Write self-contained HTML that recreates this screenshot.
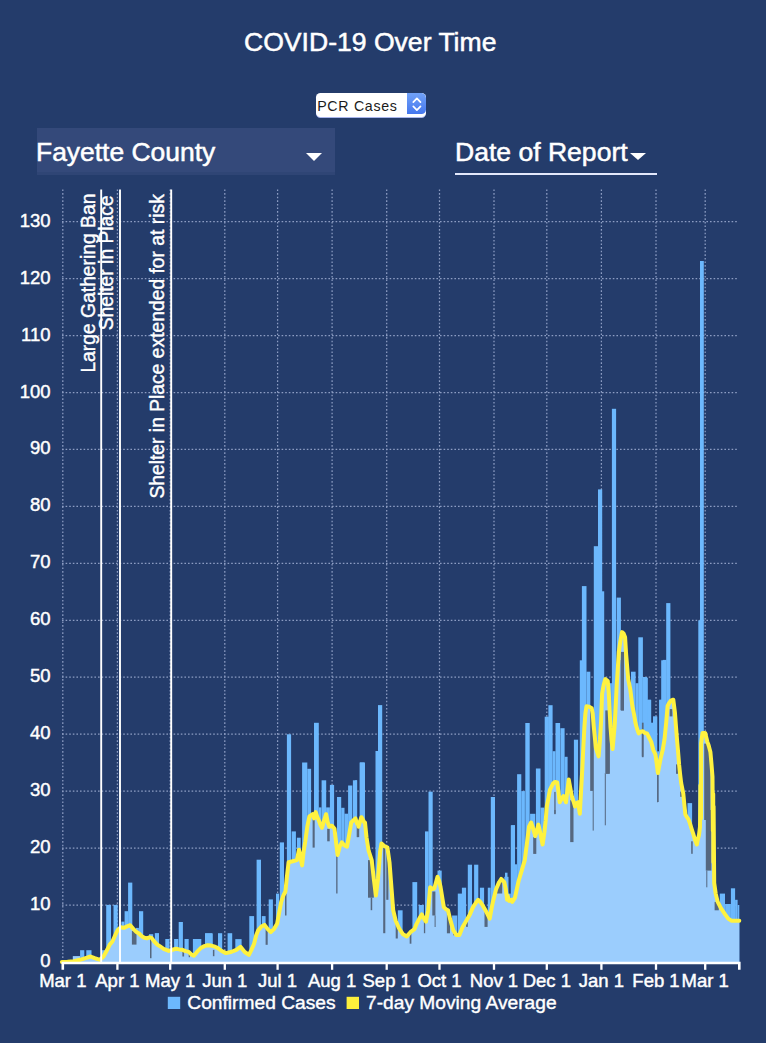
<!DOCTYPE html>
<html><head><meta charset="utf-8"><title>COVID-19 Over Time</title>
<style>
html,body{margin:0;padding:0}
body{width:766px;height:1043px;background:#243c6b;position:relative;overflow:hidden;font-family:"Liberation Sans",sans-serif;color:#fff}
.t{position:absolute;white-space:nowrap;line-height:1;transform-origin:0 0;-webkit-text-stroke:.5px #fff}
#title{left:243.6px;top:29.9px;font-size:25.6px;transform:scaleX(1.038)}
#county{position:absolute;left:37px;top:128px;width:298px;height:47px;background:#34497a;border-bottom:0}
#county i{position:absolute;left:0;right:0;bottom:0;height:3.5px;background:#2f4575}
#cty{left:36.4px;top:140.4px;font-size:25.6px;transform:scaleX(1.033)}
#dor{left:454.6px;top:140.4px;font-size:25.6px;transform:scaleX(1.037)}
#ul{position:absolute;left:455px;top:173px;width:201.5px;height:1.8px;background:#e3e8fb}
.tri{position:absolute;width:0;height:0;border-left:8.8px solid transparent;border-right:8.8px solid transparent;border-top:8.4px solid #fff}
#sel{position:absolute;left:316px;top:93px;width:109.5px;height:24px;background:#fff;border-radius:4.5px;box-shadow:0 1px 0 #a9b6ee;overflow:hidden}
#sel b{position:absolute;right:0;top:0;width:19px;height:21px;background:linear-gradient(#71a2f8,#4577ee);border-radius:0 4.5px 4.5px 0}
#sel span{position:absolute;left:1.2px;top:5.6px;font-size:14.2px;letter-spacing:.7px;color:#1b1b1b;line-height:1;font-weight:normal}
</style></head><body>
<div class="t" id="title">COVID-19 Over Time</div>
<div id="sel"><span>PCR Cases</span><b><svg width="19" height="21" viewBox="0 0 19 21" style="position:absolute;left:0;top:0"><path d="M6.3 9.2L9.9 5.4L13.5 9.2M6.3 13.4L9.9 17.2L13.5 13.4" fill="none" stroke="#fff" stroke-width="1.7" stroke-linecap="round" stroke-linejoin="round"/></svg></b></div>
<div id="county"><i></i></div>
<div class="t" id="cty">Fayette County</div>
<div class="tri" style="left:306.3px;top:153px"></div>
<div class="t" id="dor">Date of Report</div>
<div class="tri" style="left:629.5px;top:152.6px;border-left-width:8.1px;border-right-width:8.1px;border-top-width:7.8px"></div>
<div id="ul"></div>
<svg width="766" height="1043" viewBox="0 0 766 1043" style="position:absolute;left:0;top:0;font-family:'Liberation Sans',sans-serif"><g stroke="#8d9dc3" stroke-width="1.25" stroke-dasharray="1.6 2" fill="none"><line x1="62" y1="905" x2="738" y2="905"/><line x1="62" y1="848.1" x2="738" y2="848.1"/><line x1="62" y1="791.1" x2="738" y2="791.1"/><line x1="62" y1="734.2" x2="738" y2="734.2"/><line x1="62" y1="677.2" x2="738" y2="677.2"/><line x1="62" y1="620.3" x2="738" y2="620.3"/><line x1="62" y1="563.3" x2="738" y2="563.3"/><line x1="62" y1="506.4" x2="738" y2="506.4"/><line x1="62" y1="449.4" x2="738" y2="449.4"/><line x1="62" y1="392.5" x2="738" y2="392.5"/><line x1="62" y1="335.5" x2="738" y2="335.5"/><line x1="62" y1="278.6" x2="738" y2="278.6"/><line x1="62" y1="221.6" x2="738" y2="221.6"/><line x1="62.8" y1="189.5" x2="62.8" y2="962"/><line x1="117.4" y1="189.5" x2="117.4" y2="962"/><line x1="170.2" y1="189.5" x2="170.2" y2="962"/><line x1="224.8" y1="189.5" x2="224.8" y2="962"/><line x1="277.6" y1="189.5" x2="277.6" y2="962"/><line x1="332.1" y1="189.5" x2="332.1" y2="962"/><line x1="386.7" y1="189.5" x2="386.7" y2="962"/><line x1="439.5" y1="189.5" x2="439.5" y2="962"/><line x1="494" y1="189.5" x2="494" y2="962"/><line x1="546.8" y1="189.5" x2="546.8" y2="962"/><line x1="601.4" y1="189.5" x2="601.4" y2="962"/><line x1="656" y1="189.5" x2="656" y2="962"/><line x1="705.2" y1="189.5" x2="705.2" y2="962"/></g>
<g fill="#6cb8fd"><rect x="80.1" y="950.2" width="4.2" height="11.8"/><rect x="86.3" y="950.2" width="5.2" height="11.8"/><rect x="102" y="950.2" width="3.1" height="11.8"/><rect x="106.2" y="904.9" width="4.8" height="57.1"/><rect x="113.5" y="904.9" width="4.2" height="57.1"/><rect x="121.4" y="921.6" width="3.1" height="40.4"/><rect x="124.6" y="911.2" width="3.6" height="50.8"/><rect x="128.1" y="882.6" width="4.2" height="79.4"/><rect x="136" y="927.9" width="2.9" height="34.1"/><rect x="139" y="911.2" width="4.2" height="50.8"/><rect x="149" y="934.2" width="4.2" height="27.8"/><rect x="154.8" y="933.1" width="4.2" height="28.9"/><rect x="165.3" y="939" width="4.2" height="23"/><rect x="174.1" y="939" width="4.2" height="23"/><rect x="178.7" y="922" width="4.2" height="40"/><rect x="184.5" y="939" width="4.2" height="23"/><rect x="192.9" y="939" width="8.4" height="23"/><rect x="205.4" y="933.5" width="7.3" height="28.5"/><rect x="205" y="933.2" width="7.3" height="28.8"/><rect x="218" y="933.2" width="4.2" height="28.8"/><rect x="227.6" y="933.2" width="4.6" height="28.8"/><rect x="235.3" y="939.1" width="6.3" height="22.9"/><rect x="249.3" y="916.1" width="4.8" height="45.9"/><rect x="256.6" y="859.7" width="4.4" height="102.3"/><rect x="261.8" y="916.1" width="3.8" height="45.9"/><rect x="268.7" y="899.4" width="4.2" height="62.6"/><rect x="276" y="893.6" width="3.1" height="68.4"/><rect x="279.8" y="842.4" width="4.2" height="119.6"/><rect x="286.9" y="734.3" width="4.2" height="227.7"/><rect x="291.7" y="831.4" width="4.2" height="130.6"/><rect x="296.9" y="837.7" width="3.8" height="124.3"/><rect x="302.1" y="762.5" width="5.2" height="199.5"/><rect x="307.3" y="768.8" width="3.8" height="193.2"/><rect x="314" y="722.8" width="4.8" height="239.2"/><rect x="318.8" y="807.4" width="2.7" height="154.6"/><rect x="321.6" y="780.3" width="4.6" height="181.7"/><rect x="326.1" y="807.4" width="3.8" height="154.6"/><rect x="329.9" y="784.9" width="4.2" height="177.1"/><rect x="337" y="797" width="4.2" height="165"/><rect x="341.2" y="807.8" width="3.3" height="154.2"/><rect x="344.5" y="813.7" width="3.6" height="148.3"/><rect x="348.1" y="785.5" width="4.2" height="176.5"/><rect x="352.9" y="780.3" width="4.2" height="181.7"/><rect x="360" y="762.5" width="5" height="199.5"/><rect x="355" y="780.3" width="2.1" height="181.7"/><rect x="359.6" y="762.5" width="4.6" height="199.5"/><rect x="375.5" y="751" width="2.5" height="211"/><rect x="378" y="705.1" width="4.2" height="256.9"/><rect x="425" y="831.4" width="3.6" height="130.6"/><rect x="428.5" y="791.7" width="4.2" height="170.3"/><rect x="490.8" y="797" width="4.2" height="165"/><rect x="511.2" y="825.2" width="3.8" height="136.8"/><rect x="397.8" y="910.3" width="4.8" height="51.7"/><rect x="412.4" y="882.1" width="4.8" height="79.9"/><rect x="418.7" y="905" width="5.2" height="57"/><rect x="437.5" y="870.6" width="4.2" height="91.4"/><rect x="452.1" y="915.5" width="5.2" height="46.5"/><rect x="457.8" y="893.6" width="4.2" height="68.4"/><rect x="461.9" y="887.7" width="4.2" height="74.3"/><rect x="467.8" y="864.7" width="4.2" height="97.3"/><rect x="474.1" y="864.7" width="4.2" height="97.3"/><rect x="479.9" y="887.7" width="4.2" height="74.3"/><rect x="487.8" y="887.7" width="2.9" height="74.3"/><rect x="504.3" y="876.8" width="4.2" height="85.2"/><rect x="505" y="872.7" width="2.5" height="89.3"/><rect x="507.5" y="893.6" width="3.3" height="68.4"/><rect x="515" y="864.3" width="2.1" height="97.7"/><rect x="510.8" y="825.3" width="4.2" height="136.7"/><rect x="517.1" y="774.2" width="4.2" height="187.8"/><rect x="521.3" y="791.1" width="3.6" height="170.9"/><rect x="525.3" y="723" width="4.4" height="239"/><rect x="530.1" y="813.8" width="5.2" height="148.2"/><rect x="535.9" y="768.5" width="4.6" height="193.5"/><rect x="540.5" y="807.6" width="3.8" height="154.4"/><rect x="544.7" y="716.7" width="4.2" height="245.3"/><rect x="548.4" y="705.2" width="4.2" height="256.8"/><rect x="552.6" y="751.2" width="2.9" height="210.8"/><rect x="555.5" y="723" width="4.6" height="239"/><rect x="560.4" y="728.2" width="4.2" height="233.8"/><rect x="564.5" y="756.8" width="3.1" height="205.2"/><rect x="573.9" y="739.7" width="4.2" height="222.3"/><rect x="579.8" y="660.3" width="2.5" height="301.7"/><rect x="581.9" y="586.1" width="4.6" height="375.9"/><rect x="586.5" y="671.7" width="3.8" height="290.3"/><rect x="601.5" y="591.3" width="2.7" height="370.7"/><rect x="604.2" y="683.2" width="7.7" height="278.8"/><rect x="616.7" y="597.6" width="4.2" height="364.4"/><rect x="631" y="671.7" width="4.6" height="290.3"/><rect x="635.5" y="683.2" width="3.1" height="278.8"/><rect x="638.3" y="637.3" width="4.6" height="324.7"/><rect x="642.9" y="677" width="4.2" height="285"/><rect x="647" y="699.9" width="4.2" height="262.1"/><rect x="653.3" y="716.7" width="3.8" height="245.3"/><rect x="659.2" y="699.9" width="2.9" height="262.1"/><rect x="661.2" y="660.3" width="3.8" height="301.7"/><rect x="593.8" y="546.2" width="4.2" height="415.8"/><rect x="598" y="489.4" width="4.2" height="472.6"/><rect x="611.9" y="408.8" width="4.2" height="553.2"/><rect x="651.2" y="734.2" width="2.5" height="227.8"/><rect x="657.1" y="751.3" width="2.1" height="210.7"/><rect x="625.1" y="694.3" width="5.8" height="267.7"/><rect x="662.8" y="659.9" width="3.8" height="302.1"/><rect x="666.2" y="603.1" width="4.2" height="358.9"/><rect x="698.3" y="620.3" width="2.7" height="341.7"/><rect x="700" y="261" width="3.8" height="701"/><rect x="643.6" y="677.8" width="4.2" height="284.2"/><rect x="647.8" y="699.7" width="3.1" height="262.3"/><rect x="650.9" y="722.7" width="2.1" height="239.3"/><rect x="653" y="716.4" width="4.2" height="245.6"/><rect x="659.3" y="699.7" width="3.1" height="262.3"/><rect x="687.5" y="803.1" width="4.6" height="158.9"/><rect x="719.8" y="893.6" width="5.2" height="68.4"/><rect x="725.1" y="904" width="5.8" height="58"/><rect x="730.9" y="888.3" width="4.2" height="73.7"/><rect x="735.1" y="899.8" width="2.5" height="62.2"/><rect x="737.6" y="905" width="1.7" height="57"/></g>
<rect x="72.8" y="956.1" width="7.3" height="5.9" fill="#9bcdfd"/>
<path d="M61.9 962L61.9 961.9L67.5 961.7L73.8 961.3L80.1 959.8L86.3 957.8L90.5 956.5L94.7 958.2L99.9 959.8L103.5 956.5L107.2 949.8L109.7 944.6L112.4 941.5L115.2 935.2L117.7 930L120.8 927.3L123.9 927.9L127.1 926.4L130.2 925.2L133.3 928.9L136.5 932.1L139 933.5L141.7 936.2L144.4 937.7L146.9 938.3L149.4 937.3L151.5 937.9L154.2 941.5L157.3 944.6L160.5 946.7L163.6 948.8L168.8 950.9L172.4 949.8L176.1 948.8L179.3 949.4L182.4 949.8L185.5 951.1L188.7 951.9L191.2 954.4L193.9 955.7L197 951.9L201.2 947.7L204.3 946.1L207.5 945.2L211.2 945.6L215 946.7L217.5 947.9L221.7 951L225.9 953.1L231.1 952L236.3 949.9L240.5 946.8L244.7 952L248.9 954.8L251.4 949.9L254.1 943.7L256.2 935.3L258.3 930.1L261.4 926.6L264.5 924.9L267.7 929.1L270.8 932.2L273.9 929.1L277.1 923.8L279.2 912.3L281.2 901.9L283.3 895.6L285.4 891.5L286.9 876.8L288.6 862.2L292.7 861.2L296.9 860.1L299 849.7L300.7 859.1L302.1 865.4L303.6 851.8L305.3 841.3L307.3 826.7L309.4 816.3L312.6 814.2L314 818.4L315.7 812.1L317.4 817.3L318.8 820.4L320.3 824.6L322 827.8L324.1 820.4L326.1 814.2L327.8 822.5L329.3 826.7L332 825.7L334.5 828.8L336.2 843.4L337.6 854.9L339.7 846.6L341.8 842.4L344.5 845.5L347 846.6L349.1 835.1L351.2 822.5L353.3 820.4L355.4 818.4L357.1 823.6L358.1 824.6L358.5 826.7L360 821.5L361.3 817.3L361.7 817.3L363.3 820.4L364.4 822.5L365 822.5L366.5 837.2L368.6 850.7L371.7 860.1L373.8 878.9L375.9 895.6L378 878.9L380.1 851.8L381.5 843.4L384.2 845.9L387.4 847.6L389.5 862.2L391.6 889.4L393.2 910.3L395.7 920.7L398.9 928L403 934.3L406.8 936.4L410.4 932.2L414.5 929.1L416.6 923.8L419.3 918.6L421.8 914.4L423.9 918.6L426 921.7L428.1 910.3L430.2 887.3L432.7 889L434.4 888.3L437.5 876.8L439.2 881L440.6 887.3L442.3 897.7L443.8 907.1L445.9 909.2L448 910.3L450 918.6L453.2 930.1L456.3 934.9L459.4 934.9L462.6 927L465.7 921.7L469.9 914.4L473 907.1L475.7 903L478.2 899.8L480.3 901.9L482.4 905L486.6 912.3L489.7 918.6L491.2 910.3L492.9 901.9L496 889.4L498.7 883.1L501.2 878.9L504.3 882.1L505.8 889.4L507.1 899.8L507.5 895.6L509.2 900.9L511.7 899.8L512.3 901.9L515 897.7L515.4 895.6L518.6 881L521.7 870.6L524.8 860.1L526.9 843.4L529 826.7L531.1 822.5L533.2 828.8L535.3 836.1L536.7 830.9L538.4 824.6L540.5 834L542.6 844.5L544.3 833L545.7 820.4L546.8 806.5L548.4 798.2L549.9 789.8L553 783.6L555.1 781.9L557.2 782.5L558.5 791.9L559.7 802.3L561.8 798.2L563.5 796.1L566 802.3L567.2 791.9L568.7 779.4L570.2 787.7L571.8 796.1L573.5 801.3L575 806.5L576.4 803.4L578.1 802.3L579.8 813.8L581 791.9L582.3 768.9L583.3 748L584.4 727.2L585.4 713.5L586.5 706.2L589 706.6L591.7 708.3L592.7 713.5L593.8 727.2L595.9 748L598.6 756.4L600 739.7L601.1 720.9L602.1 693.7L603.6 685.3L605.3 679.1L607.8 681.1L608.8 693.7L609.4 706.2L610.5 727.2L611.5 739.7L612.6 749.1L613.6 737.6L614.7 725.1L615.9 702L616.7 685.3L617.8 668.6L618.8 651.9L620.3 641.5L622 632.1L623.6 633.5L625.1 637.3L626.1 654L628.2 679.1L630.3 689.5L632.4 706.2L634.1 714.6L635.5 723L637.2 729.2L638.7 733.4L640.8 731.7L642.9 731.3L644.9 733L647 733.4L649.1 737.6L651.2 741.8L653.3 750.1L655.4 754.3L656.6 762.7L657.9 773.1L659.2 765.8L660.6 758.5L662.7 750.1L664.5 739.4L666.2 722.7L667.6 706L669.3 702.8L670.8 700.7L673.3 699.7L674.9 712.2L676 726.8L677 739.4L678.1 751.9L679.1 764.4L680.2 774.9L681.2 783.2L683.3 793.7L684.3 804.1L685.4 814.6L686.4 816.3L688.5 819.4L690 823.6L691.6 828.8L693.3 834L694.8 839.2L696.9 844.5L697.9 839.2L699 835.1L700 826.7L700.1 820L700.4 785.3L701 818.4L701.1 743.6L702.5 733.1L705.2 733.1L707.3 741.5L709 746.7L710.4 751.9L711.5 764.4L712.5 777L712.9 830.9L713.2 793.7L713.4 862.2L713.6 806.2L714.2 883.1L715.7 893.6L717.7 901.9L720.9 908.2L725.1 914.4L728.2 918.6L731.3 920.7L735.5 920.7L739.3 920.7L739.3 962 Z" fill="#9bcdfd"/>
<g fill="#55677f"><rect x="131.9" y="931" width="4.6" height="13.6"/><rect x="150" y="937.7" width="1.5" height="20.5"/><rect x="182.4" y="950.2" width="1.7" height="6.3"/><rect x="188.7" y="953" width="1.3" height="4.2"/><rect x="212.9" y="949.9" width="1.5" height="6.3"/><rect x="265.6" y="929.1" width="2.1" height="15.7"/><rect x="285" y="893.6" width="1.5" height="21.9"/><rect x="312.6" y="814.2" width="2.1" height="33.4"/><rect x="327.2" y="828.8" width="2.5" height="12.5"/><rect x="336.2" y="854.9" width="1.3" height="38.6"/><rect x="357.1" y="826.7" width="2.1" height="10.4"/><rect x="356.7" y="824.6" width="1.7" height="12.5"/><rect x="368" y="860.1" width="5.8" height="37.6"/><rect x="370.7" y="897.7" width="1.5" height="12.5"/><rect x="383.2" y="847.6" width="2.1" height="85.6"/><rect x="386.3" y="851.8" width="2.1" height="48"/><rect x="395.7" y="920.7" width="2.1" height="17.8"/><rect x="409.7" y="932.2" width="1.7" height="11.5"/><rect x="423.9" y="918.6" width="1.3" height="14.6"/><rect x="432.3" y="891.5" width="3.1" height="24"/><rect x="434.6" y="915.5" width="1" height="11.5"/><rect x="446.9" y="910.3" width="3.1" height="23"/><rect x="453.2" y="930.1" width="1.3" height="5.2"/><rect x="466.1" y="921.7" width="1.7" height="5.2"/><rect x="484.5" y="912.3" width="3.1" height="14.6"/><rect x="497" y="881" width="5.2" height="12.5"/><rect x="533.2" y="837.2" width="3.1" height="16.7"/><rect x="554.3" y="810" width="1.3" height="4.2"/><rect x="570.2" y="800.3" width="3.3" height="41.8"/><rect x="590.2" y="707.3" width="3.6" height="83.6"/><rect x="592.7" y="790.9" width="1" height="39.7"/><rect x="605.3" y="710.4" width="4.2" height="62.7"/><rect x="604.8" y="773.1" width="1" height="52.2"/><rect x="620.9" y="700" width="3.1" height="10.4"/><rect x="641.8" y="731.3" width="1.5" height="25.1"/><rect x="657.1" y="773.1" width="0.8" height="29.2"/><rect x="554.3" y="791.9" width="1.3" height="21.9"/><rect x="620.9" y="651.9" width="3.1" height="58.5"/><rect x="620.6" y="660" width="3.1" height="50.1"/><rect x="641.9" y="722.7" width="1.7" height="34.5"/><rect x="657.2" y="773.8" width="1.5" height="28.2"/><rect x="669.7" y="709.1" width="2.7" height="7.3"/><rect x="676" y="764.4" width="2.1" height="9.4"/><rect x="680.2" y="791.6" width="2.1" height="5.2"/><rect x="704.2" y="743.6" width="6.3" height="76.4"/><rect x="606" y="720.6" width="3.8" height="53.3"/><rect x="705.8" y="810" width="5.6" height="60.6"/><rect x="706.3" y="870.6" width="1" height="16.7"/><rect x="714.6" y="901.9" width="4.2" height="8.4"/><rect x="691.2" y="841.3" width="1.5" height="12.5"/></g>
<path d="M61.9 961.9L67.5 961.7L73.8 961.3L80.1 959.8L86.3 957.8L90.5 956.5L94.7 958.2L99.9 959.8L103.5 956.5L107.2 949.8L109.7 944.6L112.4 941.5L115.2 935.2L117.7 930L120.8 927.3L123.9 927.9L127.1 926.4L130.2 925.2L133.3 928.9L136.5 932.1L139 933.5L141.7 936.2L144.4 937.7L146.9 938.3L149.4 937.3L151.5 937.9L154.2 941.5L157.3 944.6L160.5 946.7L163.6 948.8L168.8 950.9L172.4 949.8L176.1 948.8L179.3 949.4L182.4 949.8L185.5 951.1L188.7 951.9L191.2 954.4L193.9 955.7L197 951.9L201.2 947.7L204.3 946.1L207.5 945.2L211.2 945.6L215 946.7L217.5 947.9L221.7 951L225.9 953.1L231.1 952L236.3 949.9L240.5 946.8L244.7 952L248.9 954.8L251.4 949.9L254.1 943.7L256.2 935.3L258.3 930.1L261.4 926.6L264.5 924.9L267.7 929.1L270.8 932.2L273.9 929.1L277.1 923.8L279.2 912.3L281.2 901.9L283.3 895.6L285.4 891.5L286.9 876.8L288.6 862.2L292.7 861.2L296.9 860.1L299 849.7L300.7 859.1L302.1 865.4L303.6 851.8L305.3 841.3L307.3 826.7L309.4 816.3L312.6 814.2L314 818.4L315.7 812.1L317.4 817.3L318.8 820.4L320.3 824.6L322 827.8L324.1 820.4L326.1 814.2L327.8 822.5L329.3 826.7L332 825.7L334.5 828.8L336.2 843.4L337.6 854.9L339.7 846.6L341.8 842.4L344.5 845.5L347 846.6L349.1 835.1L351.2 822.5L353.3 820.4L355.4 818.4L357.1 823.6L358.1 824.6L358.5 826.7L360 821.5L361.3 817.3L361.7 817.3L363.3 820.4L364.4 822.5L365 822.5L366.5 837.2L368.6 850.7L371.7 860.1L373.8 878.9L375.9 895.6L378 878.9L380.1 851.8L381.5 843.4L384.2 845.9L387.4 847.6L389.5 862.2L391.6 889.4L393.2 910.3L395.7 920.7L398.9 928L403 934.3L406.8 936.4L410.4 932.2L414.5 929.1L416.6 923.8L419.3 918.6L421.8 914.4L423.9 918.6L426 921.7L428.1 910.3L430.2 887.3L432.7 889L434.4 888.3L437.5 876.8L439.2 881L440.6 887.3L442.3 897.7L443.8 907.1L445.9 909.2L448 910.3L450 918.6L453.2 930.1L456.3 934.9L459.4 934.9L462.6 927L465.7 921.7L469.9 914.4L473 907.1L475.7 903L478.2 899.8L480.3 901.9L482.4 905L486.6 912.3L489.7 918.6L491.2 910.3L492.9 901.9L496 889.4L498.7 883.1L501.2 878.9L504.3 882.1L505.8 889.4L507.1 899.8L507.5 895.6L509.2 900.9L511.7 899.8L512.3 901.9L515 897.7L515.4 895.6L518.6 881L521.7 870.6L524.8 860.1L526.9 843.4L529 826.7L531.1 822.5L533.2 828.8L535.3 836.1L536.7 830.9L538.4 824.6L540.5 834L542.6 844.5L544.3 833L545.7 820.4L546.8 806.5L548.4 798.2L549.9 789.8L553 783.6L555.1 781.9L557.2 782.5L558.5 791.9L559.7 802.3L561.8 798.2L563.5 796.1L566 802.3L567.2 791.9L568.7 779.4L570.2 787.7L571.8 796.1L573.5 801.3L575 806.5L576.4 803.4L578.1 802.3L579.8 813.8L581 791.9L582.3 768.9L583.3 748L584.4 727.2L585.4 713.5L586.5 706.2L589 706.6L591.7 708.3L592.7 713.5L593.8 727.2L595.9 748L598.6 756.4L600 739.7L601.1 720.9L602.1 693.7L603.6 685.3L605.3 679.1L607.8 681.1L608.8 693.7L609.4 706.2L610.5 727.2L611.5 739.7L612.6 749.1L613.6 737.6L614.7 725.1L615.9 702L616.7 685.3L617.8 668.6L618.8 651.9L620.3 641.5L622 632.1L623.6 633.5L625.1 637.3L626.1 654L628.2 679.1L630.3 689.5L632.4 706.2L634.1 714.6L635.5 723L637.2 729.2L638.7 733.4L640.8 731.7L642.9 731.3L644.9 733L647 733.4L649.1 737.6L651.2 741.8L653.3 750.1L655.4 754.3L656.6 762.7L657.9 773.1L659.2 765.8L660.6 758.5L662.7 750.1L664.5 739.4L666.2 722.7L667.6 706L669.3 702.8L670.8 700.7L673.3 699.7L674.9 712.2L676 726.8L677 739.4L678.1 751.9L679.1 764.4L680.2 774.9L681.2 783.2L683.3 793.7L684.3 804.1L685.4 814.6L686.4 816.3L688.5 819.4L690 823.6L691.6 828.8L693.3 834L694.8 839.2L696.9 844.5L697.9 839.2L699 835.1L700 826.7L700.1 820L700.4 785.3L701 818.4L701.1 743.6L702.5 733.1L705.2 733.1L707.3 741.5L709 746.7L710.4 751.9L711.5 764.4L712.5 777L712.9 830.9L713.2 793.7L713.4 862.2L713.6 806.2L714.2 883.1L715.7 893.6L717.7 901.9L720.9 908.2L725.1 914.4L728.2 918.6L731.3 920.7L735.5 920.7L739.3 920.7" fill="none" stroke="#fff23f" stroke-width="4" stroke-linejoin="round" stroke-linecap="round"/>
<line x1="101.2" y1="189.5" x2="101.2" y2="962" stroke="#fff" stroke-width="1.9"/>
<line x1="120" y1="189.5" x2="120" y2="962" stroke="#fff" stroke-width="1.9"/>
<line x1="171.2" y1="189.5" x2="171.2" y2="962" stroke="#fff" stroke-width="1.9"/>
<path d="M62.8 969.8V963H739.3V969.8" fill="none" stroke="#fff" stroke-width="2.6"/>
<g stroke="#fff" stroke-width="2.3"><line x1="117.4" y1="963" x2="117.4" y2="969.8"/><line x1="170.2" y1="963" x2="170.2" y2="969.8"/><line x1="224.8" y1="963" x2="224.8" y2="969.8"/><line x1="277.6" y1="963" x2="277.6" y2="969.8"/><line x1="332.1" y1="963" x2="332.1" y2="969.8"/><line x1="386.7" y1="963" x2="386.7" y2="969.8"/><line x1="439.5" y1="963" x2="439.5" y2="969.8"/><line x1="494" y1="963" x2="494" y2="969.8"/><line x1="546.8" y1="963" x2="546.8" y2="969.8"/><line x1="601.4" y1="963" x2="601.4" y2="969.8"/><line x1="656" y1="963" x2="656" y2="969.8"/><line x1="705.2" y1="963" x2="705.2" y2="969.8"/></g>
<g fill="#fff" stroke="#fff" stroke-width=".45" font-size="18.5"><text x="62.8" y="986.6" text-anchor="middle">Mar 1</text><text x="117.4" y="986.6" text-anchor="middle">Apr 1</text><text x="170.2" y="986.6" text-anchor="middle">May 1</text><text x="224.8" y="986.6" text-anchor="middle">Jun 1</text><text x="277.6" y="986.6" text-anchor="middle">Jul 1</text><text x="332.1" y="986.6" text-anchor="middle">Aug 1</text><text x="386.7" y="986.6" text-anchor="middle">Sep 1</text><text x="439.5" y="986.6" text-anchor="middle">Oct 1</text><text x="494" y="986.6" text-anchor="middle">Nov 1</text><text x="546.8" y="986.6" text-anchor="middle">Dec 1</text><text x="601.4" y="986.6" text-anchor="middle">Jan 1</text><text x="656" y="986.6" text-anchor="middle">Feb 1</text><text x="705.2" y="986.6" text-anchor="middle">Mar 1</text><text x="50.5" y="967" text-anchor="end">0</text><text x="50.5" y="910" text-anchor="end">10</text><text x="50.5" y="853.1" text-anchor="end">20</text><text x="50.5" y="796.1" text-anchor="end">30</text><text x="50.5" y="739.2" text-anchor="end">40</text><text x="50.5" y="682.2" text-anchor="end">50</text><text x="50.5" y="625.3" text-anchor="end">60</text><text x="50.5" y="568.3" text-anchor="end">70</text><text x="50.5" y="511.4" text-anchor="end">80</text><text x="50.5" y="454.4" text-anchor="end">90</text><text x="50.5" y="397.5" text-anchor="end">100</text><text x="50.5" y="340.5" text-anchor="end">110</text><text x="50.5" y="283.6" text-anchor="end">120</text><text x="50.5" y="226.6" text-anchor="end">130</text></g>
<g fill="#fff" stroke="#fff" stroke-width=".4" font-size="19.3"><text transform="translate(94.6 193.6) rotate(-90)" text-anchor="end">Large Gathering Ban</text><text transform="translate(113.1 195.3) rotate(-90)" text-anchor="end">Shelter in Place</text><text transform="translate(164.2 194.2) rotate(-90)" text-anchor="end">Shelter in Place extended for at risk</text></g>
<rect x="167.8" y="996.8" width="12.4" height="12.2" fill="#6cb8fd"/><rect x="346.6" y="996.8" width="12.4" height="12.2" fill="#fdf03c"/>
<g fill="#fff" stroke="#fff" stroke-width=".4" font-size="19.2"><text x="187.3" y="1008.8">Confirmed Cases</text><text x="366" y="1008.8">7-day Moving Average</text></g></svg>
</body></html>
